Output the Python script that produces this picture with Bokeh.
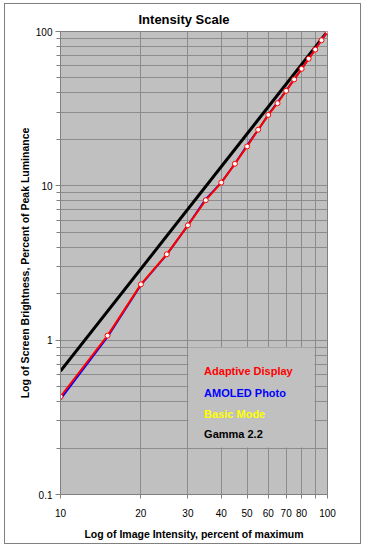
from bokeh.plotting import figure
from bokeh.layouts import column
from bokeh.models import FixedTicker, Label, BoxAnnotation
from bokeh.embed import file_html
from bokeh.resources import INLINE

# ---- data ----
intensity = [10, 15, 20, 25, 30, 35, 40, 45, 50, 55, 60, 65, 70, 75, 80, 85, 90, 95, 100]
adaptive = [0.43, 1.07, 2.3, 3.6, 5.55, 8.07, 10.5, 13.9, 18.0, 23.1, 28.8, 34.3, 41.3, 48.9, 57.3, 66.6, 76.4, 87.8, 100]
amoled = [0.415, 1.05, 2.28, 3.58, 5.55, 8.2, 10.5, 13.9, 18.3, 23.1, 28.8, 34.8, 41.3, 48.9, 57.3, 66.6, 76.8, 88.5, 100]
basic = [0.425, 1.06, 2.3, 3.6, 5.55, 8.1, 10.5, 13.9, 18.1, 23.4, 28.8, 34.4, 41.3, 48.9, 57.3, 66.6, 76.4, 87.8, 100]
gamma_x = [10, 100]
gamma_y = [0.63, 100]

x_ticks = [10, 20, 30, 40, 50, 60, 70, 80, 90, 100]
x_tick_labels = ["10", "20", "30", "40", "50", "60", "70", "80", "", "100"]
y_ticks = [0.1, 1, 10, 100]
y_tick_labels = ["0.1", "1", "10", "100"]

series_names = ["Adaptive Display", "AMOLED Photo", "Basic Mode", "Gamma 2.2"]
series_colors = ["#ff0000", "#0000ff", "#ffff00", "#000000"]

FONT = "Liberation Sans"
GRID = "#8c8c8c"
EDGE = "#808080"

p = figure(width=355, height=539, x_axis_type="log", y_axis_type="log",
           x_range=(10, 100), y_range=(0.1, 100),
           output_backend="svg", toolbar_location=None,
           min_border_left=55, min_border_right=33,
           min_border_top=27, min_border_bottom=49)

p.background_fill_color = "#c0c0c0"
p.border_fill_color = "white"
p.outline_line_color = EDGE
p.outline_line_width = 1

# title
p.title.text = "Intensity Scale"
p.title.align = "left"
p.title.offset = 78
p.title.text_font = FONT
p.title.text_font_size = "13px"
p.title.text_font_style = "bold"
p.title.text_color = "black"
p.title.vertical_align = "bottom"
p.title.standoff = 10

# x axis
p.xaxis.ticker = FixedTicker(ticks=x_ticks, minor_ticks=[])
p.xaxis.major_label_overrides = dict(zip(x_ticks, x_tick_labels))
p.xaxis.axis_label = "Log of Image Intensity, percent of maximum"

# y axis
y_minor = [m * d for d in (0.1, 1, 10) for m in range(2, 10)]
p.yaxis.ticker = FixedTicker(ticks=y_ticks, minor_ticks=y_minor)
p.yaxis.major_label_overrides = dict(zip(y_ticks, y_tick_labels))
p.yaxis.axis_label = "Log of Screen Brightness, Percent of Peak Luminance"

for ax in (p.xaxis[0], p.yaxis[0]):
    ax.axis_line_color = EDGE
    ax.major_tick_line_color = EDGE
    ax.minor_tick_line_color = EDGE
    ax.major_tick_in = 0
    ax.minor_tick_in = 0
    ax.major_label_text_font = FONT
    ax.major_label_text_font_size = "10px"
    ax.major_label_text_color = "black"
    ax.axis_label_text_font = FONT
    ax.axis_label_text_font_size = "10.5px"
    ax.axis_label_text_font_style = "bold"
    ax.axis_label_text_color = "black"

p.xaxis.major_tick_out = 4
p.xaxis.minor_tick_line_color = None
p.xaxis.major_label_standoff = 10
p.xaxis.axis_label_standoff = 8
p.yaxis.major_tick_out = 5
p.yaxis.minor_tick_out = 4
p.yaxis.major_label_standoff = 3
p.yaxis.axis_label_standoff = 2

# grids
p.xgrid.ticker = FixedTicker(ticks=x_ticks, minor_ticks=[])
p.xgrid.grid_line_color = GRID
p.ygrid.grid_line_color = GRID
p.ygrid.minor_grid_line_color = GRID

# series
p.line(gamma_x, gamma_y, line_color=series_colors[3], line_width=3)
p.line(intensity, basic, line_color=series_colors[2], line_width=2)
p.line(intensity, amoled, line_color=series_colors[1], line_width=2)
p.line(intensity, adaptive, line_color=series_colors[0], line_width=2)
p.scatter(intensity, adaptive, size=5, fill_color="white", line_color=series_colors[0], line_width=1)

# legend box (text-only legend)
p.add_layout(BoxAnnotation(left=30.1, right=89.3, top=0.895, bottom=0.2014,
                           fill_color="#c0c0c0", fill_alpha=1.0, line_color=None))
legend_y = [0.635, 0.4574, 0.333, 0.247]
for name, color, ly in zip(series_names, series_colors, legend_y):
    p.add_layout(Label(x=34.5, y=ly, text=name, text_color=color,
                       text_font=FONT, text_font_size="11px", text_font_style="bold",
                       text_baseline="alphabetic", text_align="left"))

# outer chart border drawn by a wrapping container
layout = column(p, margin=(3, 0, 0, 4), styles={"border": "1px solid #808080"})

open("out.html", "w").write(file_html(layout, INLINE))
